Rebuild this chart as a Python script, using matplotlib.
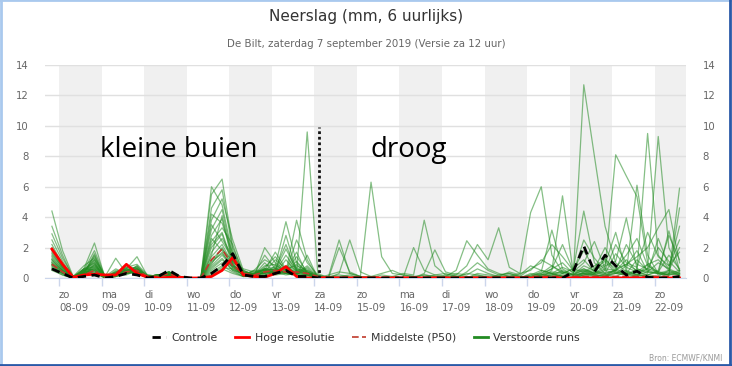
import numpy as np
import matplotlib
matplotlib.use("Agg")
import matplotlib.pyplot as plt
from matplotlib.lines import Line2D

# tijdas: 6-uurlijkse stappen vanaf za 07-09 20:00 (lokale tijd), in dagen t.o.v. 08-09 00:00
n_steps = 60
t = -1 / 6 + 0.25 * np.arange(n_steps)

day_names = ["zo", "ma", "di", "wo", "do", "vr", "za", "zo", "ma", "di", "wo", "do", "vr", "za", "zo"]
day_dates = ["08-09", "09-09", "10-09", "11-09", "12-09", "13-09", "14-09", "15-09",
             "16-09", "17-09", "18-09", "19-09", "20-09", "21-09", "22-09"]

controle = [0.6, 0.3, 0.0, 0.1, 0.2, 0.0, 0.1, 0.3, 0.2, 0.0, 0.1, 0.5, 0.1,
            0.0, 0.0, 0.3, 0.8, 1.6, 0.2, 0.1, 0.1, 0.3, 0.5, 0.1, 0.1, 0.0,
            0.0, 0.0, 0.0, 0.0, 0.0, 0.0, 0.0, 0.0, 0.0, 0.0, 0.0, 0.0, 0.0, 0.0,
            0.0, 0.0, 0.0, 0.0, 0.0, 0.0, 0.0, 0.0, 0.0, 0.4, 2.1, 0.4, 1.5, 0.8,
            0.2, 0.45, 0.05, 0.0, 0.0, 0.1]

hoge_resolutie = [1.9, 0.9, 0.05, 0.2, 0.25, 0.2, 0.2, 0.9, 0.3, 0.05, 0.0, 0.05, 0.05,
                  0.0, 0.0, 0.1, 0.5, 1.35, 0.2, 0.1, 0.05, 0.3, 0.75, 0.1, 0.0, 0.0,
                  0.0, 0.0, 0.0, 0.0, 0.0, 0.0, 0.0, 0.0, 0.0, 0.0, 0.0, 0.0, 0.0, 0.0,
                  0.0, 0.0, 0.0, 0.0, 0.0, 0.0, 0.0, 0.0, 0.0, 0.0, 0.0, 0.0, 0.0, 0.0,
                  0.0, 0.0, 0.0, 0.0, 0.0, 0.0]

middelste = [0.9, 0.4, 0.0, 0.2, 0.5, 0.0, 0.2, 0.4, 0.5, 0.1, 0.1, 0.3, 0.0,
             0.0, 0.0, 1.2, 1.9, 0.8, 0.3, 0.2, 0.4, 0.5, 0.4, 0.4, 0.3, 0.1,
             0.05, 0.05, 0.05, 0.05, 0.05, 0.05, 0.05, 0.05, 0.05, 0.05, 0.05, 0.05, 0.05, 0.05,
             0.05, 0.05, 0.05, 0.05, 0.05, 0.1, 0.1, 0.1, 0.1, 0.1, 0.1, 0.1, 0.1, 0.1,
             0.1, 0.1, 0.1, 0.1, 0.1, 0.1]

# verstoorde runs: vroeg deel (t/m 14-09 ochtend) en laat deel
runs_vroeg = [
    [4.4, 1.8, 0.1, 0.4, 1.2, 0.1, 0.3, 0.5, 0.6, 0.1, 0.1, 0.3, 0.1, 0, 0, 6.0, 4.8, 1.5, 0.3, 0.2, 0.4, 0.6, 0.3, 0.2, 0.1, 0.0],
    [3.4, 1.5, 0.0, 0.6, 2.3, 0.0, 0.2, 0.4, 0.5, 0.1, 0.2, 0.2, 0.0, 0, 0, 5.5, 6.5, 2.0, 0.4, 0.3, 0.5, 0.4, 0.2, 0.3, 0.2, 0.0],
    [2.9, 1.3, 0.1, 0.5, 1.8, 0.1, 1.3, 0.3, 0.4, 0.0, 0.1, 0.3, 0.1, 0, 0, 4.6, 5.8, 1.8, 0.2, 0.5, 1.2, 0.8, 3.7, 1.0, 0.4, 0.1],
    [2.5, 1.1, 0.0, 0.3, 1.5, 0.0, 0.4, 0.6, 1.4, 0.1, 0.2, 0.4, 0.0, 0, 0, 3.8, 5.2, 2.5, 0.5, 0.2, 0.6, 0.5, 0.4, 3.8, 1.2, 0.0],
    [2.2, 0.9, 0.1, 0.8, 1.3, 0.1, 0.3, 0.7, 0.9, 0.2, 0.1, 0.3, 0.1, 0, 0, 3.2, 4.5, 1.2, 0.3, 0.1, 2.0, 1.0, 0.5, 0.3, 9.6, 0.3],
    [1.9, 0.8, 0.0, 0.4, 1.0, 0.0, 0.2, 0.5, 0.7, 0.1, 0.2, 0.2, 0.0, 0, 0, 2.8, 3.9, 1.0, 0.6, 0.4, 0.5, 1.7, 0.6, 0.4, 0.2, 0.0],
    [1.6, 0.7, 0.1, 0.2, 0.8, 0.1, 0.6, 0.3, 0.5, 0.0, 0.1, 0.4, 0.1, 0, 0, 2.4, 3.3, 2.2, 0.2, 0.3, 0.3, 0.4, 2.8, 0.5, 0.3, 0.1],
    [1.4, 0.6, 0.0, 0.5, 0.6, 0.0, 0.3, 0.8, 0.6, 0.1, 0.2, 0.3, 0.0, 0, 0, 2.0, 2.9, 0.8, 0.4, 0.2, 1.5, 0.6, 0.4, 2.5, 1.0, 0.2],
    [1.2, 0.5, 0.1, 0.3, 0.9, 0.1, 0.2, 0.4, 0.3, 0.2, 0.1, 0.2, 0.1, 0, 0, 1.7, 2.6, 1.4, 0.3, 0.1, 0.4, 0.3, 0.3, 0.2, 1.5, 0.0],
    [1.1, 0.5, 0.0, 0.6, 0.5, 0.0, 0.1, 0.3, 0.8, 0.1, 0.2, 0.3, 0.0, 0, 0, 1.4, 2.2, 0.9, 0.2, 0.3, 0.6, 0.5, 1.9, 0.6, 0.4, 0.1],
    [1.0, 0.4, 0.1, 0.2, 0.7, 0.1, 0.4, 0.6, 0.4, 0.0, 0.1, 0.4, 0.1, 0, 0, 1.2, 1.9, 1.1, 0.5, 0.2, 0.3, 0.8, 0.5, 1.7, 0.2, 0.0],
    [0.9, 0.4, 0.0, 0.4, 0.4, 0.0, 0.2, 0.2, 0.5, 0.1, 0.2, 0.2, 0.0, 0, 0, 1.0, 1.7, 0.6, 0.2, 0.5, 0.5, 0.4, 0.4, 0.3, 0.8, 0.1],
    [0.8, 0.3, 0.1, 0.3, 0.6, 0.1, 0.3, 0.5, 0.3, 0.0, 0.1, 0.3, 0.1, 0, 0, 0.8, 1.5, 0.7, 0.3, 0.2, 1.0, 0.3, 1.2, 0.4, 0.3, 0.0],
    [0.7, 0.3, 0.0, 0.5, 0.3, 0.0, 0.1, 0.4, 0.6, 0.1, 0.2, 0.4, 0.0, 0, 0, 0.6, 1.2, 0.5, 0.1, 0.1, 0.4, 1.2, 0.6, 0.8, 0.5, 0.2],
    [1.3, 0.6, 0.0, 0.4, 1.1, 0.0, 0.2, 0.3, 0.4, 0.1, 0.1, 0.2, 0.0, 0, 0, 0.5, 1.0, 0.8, 0.2, 0.3, 0.3, 0.5, 0.3, 0.2, 0.2, 0.0],
    [0.6, 0.2, 0.0, 0.2, 0.5, 0.0, 0.2, 0.4, 0.5, 0.0, 0.2, 0.3, 0.0, 0, 0, 0.4, 0.8, 0.4, 0.1, 0.2, 0.6, 0.3, 0.4, 1.4, 0.4, 0.1],
    [1.5, 0.7, 0.1, 0.6, 0.7, 0.1, 0.3, 0.5, 0.7, 0.1, 0.1, 0.3, 0.1, 0, 0, 0.3, 0.7, 0.6, 0.2, 0.1, 0.2, 0.4, 0.8, 0.3, 0.2, 0.0],
    [0.5, 0.2, 0.0, 0.3, 0.4, 0.0, 0.1, 0.3, 0.4, 0.1, 0.2, 0.2, 0.0, 0, 0, 0.2, 0.6, 0.3, 0.1, 0.3, 0.4, 0.2, 0.3, 0.5, 0.6, 0.0],
    [1.8, 0.8, 0.0, 0.3, 1.6, 0.0, 0.5, 0.4, 0.6, 0.0, 0.1, 0.4, 0.0, 0, 0, 4.2, 3.6, 1.6, 0.4, 0.2, 0.8, 0.9, 0.4, 0.6, 0.3, 0.1],
    [0.9, 0.4, 0.1, 0.5, 0.8, 0.1, 0.2, 0.6, 0.3, 0.1, 0.2, 0.3, 0.1, 0, 0, 3.5, 2.4, 1.3, 0.3, 0.4, 0.5, 0.6, 2.2, 0.4, 0.5, 0.0],
    [1.2, 0.5, 0.0, 0.4, 0.6, 0.0, 0.4, 0.3, 0.5, 0.0, 0.1, 0.2, 0.0, 0, 0, 2.6, 1.8, 0.9, 0.2, 0.2, 0.7, 1.4, 0.5, 0.9, 0.2, 0.1],
    [0.8, 0.3, 0.0, 0.6, 1.0, 0.0, 0.3, 0.7, 0.4, 0.1, 0.2, 0.3, 0.0, 0, 0, 1.5, 4.1, 1.1, 0.4, 0.3, 0.3, 0.5, 0.7, 0.3, 0.4, 0.0],
    [2.0, 0.9, 0.1, 0.3, 1.4, 0.1, 0.2, 0.4, 0.8, 0.1, 0.1, 0.4, 0.1, 0, 0, 0.9, 2.0, 0.7, 0.2, 0.1, 0.4, 0.3, 0.4, 1.1, 0.3, 0.1],
    [0.6, 0.3, 0.0, 0.4, 0.5, 0.0, 0.3, 0.5, 0.3, 0.0, 0.2, 0.2, 0.0, 0, 0, 0.7, 1.3, 0.5, 0.3, 0.2, 0.6, 0.7, 0.3, 0.2, 0.7, 0.0],
    [1.0, 0.5, 0.1, 0.2, 0.9, 0.0, 0.1, 0.3, 0.6, 0.1, 0.1, 0.3, 0.0, 0, 0, 2.2, 3.0, 1.0, 0.1, 0.3, 0.2, 0.4, 1.5, 0.5, 0.2, 0.1],
    [1.7, 0.7, 0.0, 0.5, 1.2, 0.1, 0.2, 0.6, 0.5, 0.0, 0.2, 0.3, 0.1, 0, 0, 1.1, 1.6, 0.8, 0.2, 0.2, 0.5, 0.6, 0.5, 0.7, 0.3, 0.0],
]

runs_laat = [
    [0.1, 2.5, 0.3, 0.1, 0, 0, 0, 0, 0, 0.2, 0.1, 0, 0, 0.3, 0.2, 0, 0, 0, 0, 0.2, 0.5, 0.3, 0.1, 0, 12.7, 8.0, 3.4, 1.0, 0.4, 0.2, 0.1, 0, 0.3, 0.5],
    [0, 0.3, 2.5, 0.4, 0.1, 0, 0, 0, 0, 0, 0, 0, 0, 0, 0.1, 0, 0, 0, 0, 0.1, 0.3, 0.8, 0.4, 0.2, 0.5, 0.3, 0.6, 8.1, 6.7, 5.35, 1.0, 0.3, 0.2, 0.4],
    [0, 2.0, 0.4, 0.1, 6.3, 1.4, 0.3, 0.2, 0.1, 0, 0, 0, 0, 0, 0, 0, 0, 0, 0, 0, 0.2, 0.3, 0.1, 0, 0.4, 0.8, 1.2, 0.6, 0.9, 0.5, 9.5, 1.5, 0.6, 0.3],
    [0, 0, 0, 0, 0, 0.2, 0.1, 0, 2.0, 0.5, 0.2, 0.1, 0, 0, 0, 0, 0, 0, 0, 0.3, 0.2, 0.6, 2.2, 0.5, 4.4, 1.0, 0.3, 0.5, 1.2, 0.4, 0.6, 9.3, 2.0, 0.5],
    [0, 0, 0, 0, 0, 0, 0.1, 0.3, 0.2, 3.8, 0.8, 0.2, 0.1, 0, 0, 0, 0, 0, 0, 0.1, 0.4, 3.15, 0.6, 0.2, 0.3, 0.5, 0.9, 3.0, 0.4, 6.1, 1.5, 0.3, 0.5, 0.2],
    [0, 0, 0, 0, 0, 0, 0, 0, 0, 0.3, 1.85, 0.4, 0.2, 0.1, 0, 0, 0.1, 0.2, 0.1, 0, 0, 0.5, 5.4, 0.4, 0.6, 0.3, 0.8, 1.1, 3.95, 0.6, 0.4, 0.3, 0.2, 5.9],
    [0, 0, 0, 0, 0, 0, 0, 0, 0, 0, 0, 0.1, 0.5, 2.45, 1.5, 0.6, 0.3, 0.1, 0, 0, 0.2, 0.4, 0.3, 0.6, 1.2, 0.4, 0.3, 0.5, 0.9, 1.4, 2.0, 3.3, 4.5, 1.0],
    [0, 0, 0, 0, 0, 0, 0, 0, 0, 0, 0, 0, 0.2, 0.8, 2.2, 1.2, 3.3, 0.7, 0.3, 4.3, 6.0, 1.5, 0.4, 0.2, 0.8, 0.5, 0.3, 1.6, 0.7, 0.4, 0.9, 1.2, 0.5, 0.3],
    [0.2, 0.4, 0.3, 0.1, 0, 0, 0, 0, 0.1, 0.2, 0.1, 0, 0, 0.4, 1.0, 0.5, 0.2, 0.3, 0.1, 0.6, 1.0, 2.2, 1.4, 0.5, 1.8, 0.6, 2.0, 0.7, 1.5, 2.6, 0.8, 0.4, 1.5, 0.6],
    [0.1, 0.2, 0.1, 0, 0, 0, 0, 0, 0, 0, 0, 0.2, 0.3, 0.2, 0.6, 0.3, 0.1, 0, 0, 0.2, 0.3, 0.6, 1.0, 0.3, 2.5, 1.3, 0.5, 2.2, 1.0, 0.7, 3.0, 1.4, 0.8, 2.5],
    [0, 0, 0, 0, 0.1, 0.3, 0.5, 0.2, 0.1, 0, 0, 0, 0, 0, 0.3, 0.2, 0.1, 0.4, 0.2, 0.8, 0.5, 0.3, 0.7, 0.4, 1.0, 2.4, 0.6, 0.5, 2.2, 0.9, 0.6, 2.0, 1.1, 0.4],
    [0, 0, 0, 0, 0, 0, 0, 0, 0, 0, 0, 0, 0, 0, 0, 0, 0, 0.1, 0.3, 0.5, 1.2, 0.8, 0.3, 0.1, 0.3, 0.2, 0.5, 0.3, 0.8, 1.8, 0.4, 1.0, 0.6, 3.4],
    [0.1, 0, 0, 0, 0, 0, 0, 0, 0, 0, 0.2, 0.3, 0.1, 0, 0, 0, 0, 0, 0, 0, 0.1, 0.2, 0.5, 0.2, 0.6, 0.3, 1.3, 0.4, 0.2, 0.6, 0.3, 2.6, 0.8, 1.7],
    [0, 0, 0, 0, 0, 0, 0, 0, 0, 0, 0, 0, 0, 0, 0, 0, 0, 0, 0, 0, 0, 0, 0, 0, 0.2, 0.4, 0.2, 0.3, 0.5, 0.2, 0.4, 0.3, 3.1, 0.5],
    [0, 0, 0, 0, 0, 0, 0, 0, 0, 0, 0, 0, 0, 0, 0, 0, 0, 0, 0, 0.1, 0.2, 0.3, 0.1, 0, 0.3, 0.2, 0.1, 0.4, 0.3, 1.2, 0.5, 0.3, 0.2, 4.6],
    [0, 0.1, 0.2, 0, 0, 0, 0, 0, 0, 0, 0, 0, 0, 0, 0.2, 0.1, 0, 0, 0, 0, 0.1, 0.2, 0.4, 0.2, 0.3, 0.1, 0.2, 0.5, 0.3, 0.2, 0.6, 0.4, 0.2, 0.3],
    [0, 0, 0, 0, 0, 0, 0, 0, 0, 0, 0, 0, 0, 0, 0, 0, 0, 0, 0, 0, 0, 0.1, 0.2, 0.1, 0.4, 0.6, 1.1, 0.3, 0.2, 0.4, 0.2, 0.5, 2.8, 1.2],
    [0, 0, 0, 0, 0, 0, 0, 0, 0, 0, 0, 0, 0, 0, 0, 0, 0, 0, 0, 0, 0, 0, 0, 0, 0, 0, 0, 0, 0, 0, 0, 0, 0, 0],
    [0, 0, 0, 0, 0, 0, 0, 0, 0, 0, 0, 0, 0, 0, 0, 0, 0, 0, 0, 0, 0, 0, 0, 0, 0.2, 0.1, 0, 0.1, 0, 0, 0, 0, 0, 0.1],
    [0, 0, 0, 0, 0, 0, 0, 0, 0, 0, 0, 0, 0, 0, 0, 0, 0.2, 0.3, 0.1, 0, 0, 0, 0.1, 0.3, 0.5, 0.2, 0.1, 0.3, 0.2, 0.1, 0.2, 0.4, 0.3, 0.2],
    [0, 0, 0, 0, 0, 0, 0, 0, 0, 0, 0, 0, 0, 0, 0, 0, 0, 0, 0, 0, 0, 0, 0, 0, 0, 0, 0, 0, 0, 0, 0, 0, 0, 0],
    [0, 0, 0, 0, 0, 0, 0, 0, 0, 0, 0, 0, 0, 0, 0, 0, 0, 0, 0, 0, 0, 0, 0, 0, 0.1, 0, 0, 0, 0, 0.2, 0.1, 0, 0, 0],
    [0, 0, 0, 0, 0, 0, 0, 0, 0, 0, 0, 0, 0, 0, 0, 0, 0, 0, 0, 0, 0, 0, 0.3, 0.6, 0.4, 0.2, 0.1, 0.6, 0.3, 0.1, 0.9, 0.2, 0.4, 0.2],
    [0, 0, 0, 0, 0, 0, 0, 0, 0, 0, 0, 0, 0, 0, 0, 0, 0, 0, 0, 0, 0, 0, 0, 0, 0, 0, 0, 0, 0, 0, 0, 0, 0, 0],
    [0, 0, 0, 0, 0, 0, 0, 0, 0, 0, 0, 0, 0, 0, 0, 0, 0, 0, 0, 0, 0.1, 0.2, 0.1, 0, 0.2, 0.3, 0.2, 0.1, 0.4, 0.3, 0.2, 0.1, 0.5, 2.0],
    [0, 0, 0, 0, 0, 0, 0, 0, 0, 0, 0, 0, 0, 0, 0, 0, 0, 0, 0, 0, 0, 0, 0, 0, 0, 0, 0, 0, 0, 0, 0, 0, 0, 0],
]

groen = "#228b22"

fig = plt.figure(figsize=(7.32, 3.66), dpi=100)
ax = fig.add_axes([45 / 732, 1 - 278 / 366, 641 / 732, 213 / 366])

x0, x1 = (45 - 59) / 42.55, (686 - 59) / 42.55
ax.set_xlim(x0, x1)
ax.set_ylim(0, 14)

# grijze dagbanden
for d in range(0, 15, 2):
    ax.axvspan(d, d + 1, color="#f0f0f0", zorder=0, lw=0)

ax.set_yticks(range(0, 15, 2))
ax.grid(axis="y", color="#e0e0e0", lw=1, zorder=1)
ax.set_axisbelow(True)

for vroeg, laat in zip(runs_vroeg, runs_laat):
    ax.plot(t, vroeg + laat, color=groen, lw=0.9, alpha=0.55, zorder=2)

ax.plot(t, middelste, color="#c0392b", lw=1.2, ls=(0, (4, 2)), zorder=3)
ax.plot(t, hoge_resolutie, color="#ff0000", lw=2, zorder=4)
ax.plot(t, controle, color="black", lw=2, ls=(0, (3, 2)), zorder=5)

# handgetekende scheiding
ax.plot([6.11, 6.11], [0, 9.9], color="#111111", lw=2, ls=(0, (1, 1)), zorder=6)
ax.text(0.96, 7.96, "kleine buien", fontsize=20, family="Open Sans", color="#000000",
        va="baseline", ha="left", zorder=7)
ax.text(7.31, 7.96, "droog", fontsize=20, family="Open Sans", color="#000000",
        va="baseline", ha="left", zorder=7)

for s in ["top", "left", "right"]:
    ax.spines[s].set_visible(False)
ax.spines["bottom"].set_color("#ccd6eb")
ax.spines["bottom"].set_zorder(1)

ax.set_xticks(range(15))
ax.set_xticklabels([f"{n}\n{d}" for n, d in zip(day_names, day_dates)],
                   ha="left", multialignment="left", fontsize=7.3, color="#666666",
                   linespacing=1.35)
ax.tick_params(axis="x", color="#ccd6eb", length=6, width=1, pad=3)
ax.tick_params(axis="y", length=0, labelsize=7.3, labelcolor="#666666", pad=12,
               labelright=True)

fig.text(0.5, 1 - 17 / 366, "Neerslag (mm, 6 uurlijks)", ha="center", va="center",
         fontsize=11, color="#333333")
fig.text(0.5, 1 - 44 / 366, "De Bilt, zaterdag 7 september 2019 (Versie za 12 uur)",
         ha="center", va="center", fontsize=7.4, color="#666666")

handles = [
    Line2D([], [], color="black", lw=2, ls=(0, (3, 2))),
    Line2D([], [], color="#ff0000", lw=2),
    Line2D([], [], color="#c0392b", lw=1.2, ls=(0, (4, 2))),
    Line2D([], [], color=groen, lw=2),
]
labels = ["Controle", "Hoge resolutie", "Middelste (P50)", "Verstoorde runs"]
fig.legend(handles, labels, loc="center", bbox_to_anchor=(0.5, 1 - 338 / 366), ncol=4,
           frameon=False, fontsize=7.8, handlelength=1.3, handletextpad=0.5,
           columnspacing=1.6, labelcolor="#333333")

fig.text(1 - 10 / 732, 1 - 358 / 366, "Bron: ECMWF/KNMI", ha="right", va="center",
         fontsize=5.5, color="#999999")

# kader
fig.add_artist(Line2D([0.001, 0.001], [0, 1], transform=fig.transFigure, color="#a9c9ee", lw=2))
fig.add_artist(Line2D([0, 1], [0.999, 0.999], transform=fig.transFigure, color="#a9c9ee", lw=2))
fig.add_artist(Line2D([0.997, 0.997], [0, 1], transform=fig.transFigure, color="#2a5aa8", lw=2))
fig.add_artist(Line2D([0, 1], [0.004, 0.004], transform=fig.transFigure, color="#2a5aa8", lw=2))

fig.savefig("out.png", dpi=100)
